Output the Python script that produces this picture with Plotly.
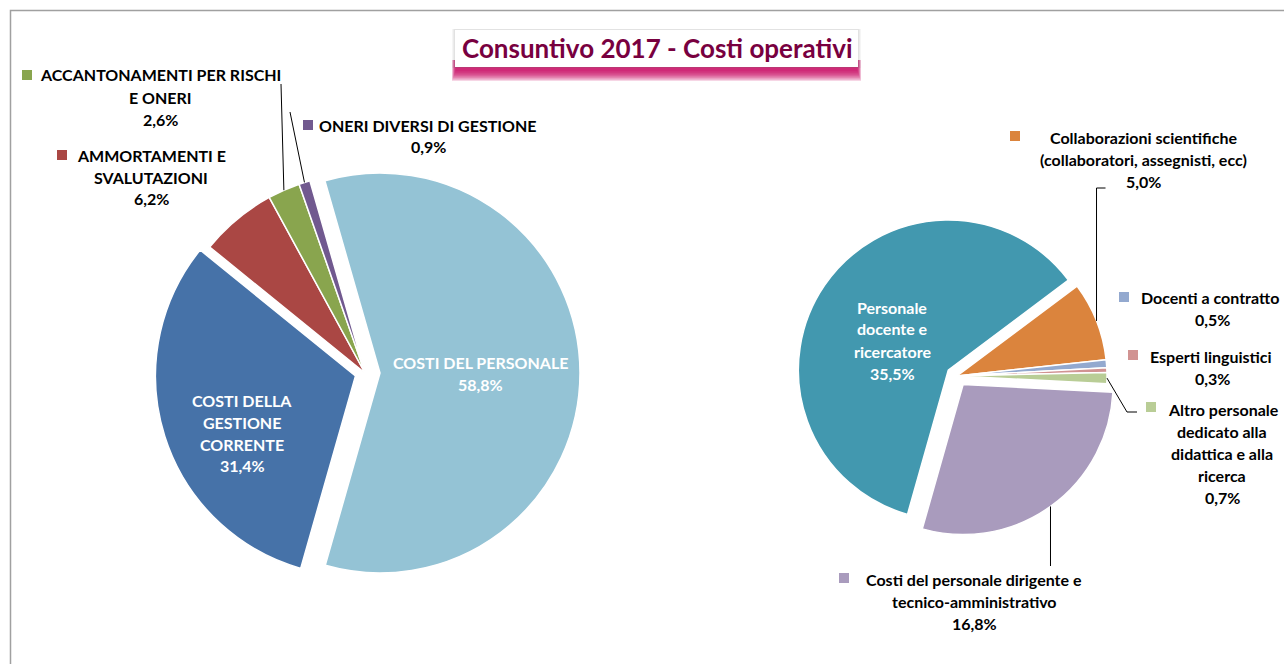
import math
import plotly.graph_objects as go

W, H = 1284, 664

# Costi operativi 2017 - quota percentuale sul totale
cost_labels = ["COSTI DEL PERSONALE", "COSTI DELLA GESTIONE CORRENTE",
               "AMMORTAMENTI E SVALUTAZIONI", "ACCANTONAMENTI PER RISCHI E ONERI",
               "ONERI DIVERSI DI GESTIONE"]
cost_values = [58.8, 31.4, 6.2, 2.6, 0.9]
cost_colors = ["#94C3D5", "#4672A8", "#AA4744", "#89A54E", "#71598F"]
cost_pull = [0.075, 0.05, 0, 0, 0]
cost_lines = [["COSTI DEL PERSONALE"],
              ["COSTI DELLA", "GESTIONE", "CORRENTE"],
              ["AMMORTAMENTI E", "SVALUTAZIONI"],
              ["ACCANTONAMENTI PER RISCHI", "E ONERI"],
              ["ONERI DIVERSI DI GESTIONE"]]

# Dettaglio dei costi del personale
staff_labels = ["Personale docente e ricercatore",
                "Collaborazioni scientifiche (collaboratori, assegnisti, ecc)",
                "Docenti a contratto", "Esperti linguistici",
                "Altro personale dedicato alla didattica e alla ricerca",
                "Costi del personale dirigente e tecnico-amministrativo"]
staff_values = [35.5, 5.0, 0.5, 0.3, 0.7, 16.8]
staff_colors = ["#4298AF", "#DB843D", "#93A9CF", "#D19392", "#B9CD96", "#A99BBD"]
staff_pull = [0.07, 0, 0, 0, 0, 0.07]
staff_lines = [["Personale", "docente e", "ricercatore"],
               ["Collaborazioni scientifiche", "(collaboratori, assegnisti, ecc)"],
               ["Docenti a contratto"],
               ["Esperti linguistici"],
               ["Altro personale", "dedicato alla", "didattica e alla", "ricerca"],
               ["Costi del personale dirigente e", "tecnico-amministrativo"]]

FONT = "Lato"
FONT_SIZE = 16
LINE_H = 22


def fx(x):
    return x / W


def fy(y):
    return 1 - y / H


def pct(v):
    return f"{v:.1f}".replace(".", ",") + "%"


def pie_geometry(cx, cy, r, pulls):
    half = r * (1 + max(pulls))
    return dict(x=[fx(cx - half), fx(cx + half)],
                y=[fy(cy + half), fy(cy - half)])


def mid_point(values, idx, rotation, cx, cy, r, pull):
    tot = sum(values)
    start = rotation + 360 * sum(values[:idx]) / tot
    mid = math.radians(start + 180 * values[idx] / tot)
    rr = r * (1 + pull)
    return cx + rr * math.sin(mid), cy - rr * math.cos(mid)


L_CX, L_CY, L_R, L_ROT = 365, 373, 200, -16
R_CX, R_CY, R_R, R_ROT = 957, 376, 150, 195.8

fig = go.Figure()
fig.add_trace(go.Pie(
    labels=cost_labels, values=cost_values, sort=False, direction="clockwise",
    rotation=L_ROT, pull=cost_pull, textinfo="none", hoverinfo="label+percent",
    marker=dict(colors=cost_colors, line=dict(color="white", width=1.5)),
    domain=pie_geometry(L_CX, L_CY, L_R, cost_pull)))
fig.add_trace(go.Pie(
    labels=staff_labels, values=staff_values, sort=False, direction="clockwise",
    rotation=R_ROT, pull=staff_pull, textinfo="none", hoverinfo="label+value",
    marker=dict(colors=staff_colors, line=dict(color="white", width=1.5)),
    domain=pie_geometry(R_CX, R_CY, R_R, staff_pull)))

annotations = []
shapes = []


def add_text(lines, x, y0, color="black", first_x=None, first_anchor=None):
    for k, t in enumerate(lines):
        xx, xa = x, "center"
        if k == 0 and first_x is not None:
            xx, xa = first_x, first_anchor
        annotations.append(dict(
            text=f"<b>{t}</b>", x=fx(xx), y=fy(y0 + k * LINE_H), xref="paper", yref="paper",
            xanchor=xa, yanchor="middle", showarrow=False,
            font=dict(family=FONT, size=FONT_SIZE, color=color)))


def add_key(x, y, color):
    shapes.append(dict(type="rect", xref="paper", yref="paper",
                       x0=fx(x), x1=fx(x + 10), y0=fy(y + 10), y1=fy(y),
                       fillcolor=color, line=dict(width=0)))


def add_leader(points):
    path = "M " + " L ".join(f"{fx(px)},{fy(py)}" for px, py in points)
    shapes.append(dict(type="path", xref="paper", yref="paper", path=path,
                       line=dict(color="black", width=1)))


# chart frame
shapes.append(dict(type="rect", xref="paper", yref="paper",
                   x0=fx(10.5), x1=fx(1300), y0=fy(680), y1=fy(10.5),
                   line=dict(color="#A0A0A0", width=1.5), fillcolor="rgba(0,0,0,0)"))

# left pie, labels inside the slices
add_text(cost_lines[0] + [pct(cost_values[0])], 480, 362, color="white")
add_text(cost_lines[1] + [pct(cost_values[1])], 242, 400, color="white")
# left pie, labels outside with legend keys
add_key(22, 70, cost_colors[3])
add_text(cost_lines[3] + [pct(cost_values[3])], 160, 75)
add_key(57, 150, cost_colors[2])
add_text(cost_lines[2] + [pct(cost_values[2])], 151, 155)
add_key(303, 120, cost_colors[4])
add_text(cost_lines[4] + [pct(cost_values[4])], 428, 125)

gx, gy = mid_point(cost_values, 3, L_ROT, L_CX, L_CY, L_R, cost_pull[3])
add_leader([(gx, gy), (281, 84)])
px_, py_ = mid_point(cost_values, 4, L_ROT, L_CX, L_CY, L_R, cost_pull[4])
add_leader([(px_, py_), (290, 112)])

# right pie, label inside the main slice
add_text(staff_lines[0] + [pct(staff_values[0])], 892, 307, color="white")
# right pie, labels outside with legend keys
add_key(1010, 131, staff_colors[1])
add_text(staff_lines[1] + [pct(staff_values[1])], 1143, 137)
add_key(1119, 292, staff_colors[2])
add_text(staff_lines[2] + [pct(staff_values[2])], 1212, 297, first_x=1139, first_anchor="left")
add_key(1128, 350, staff_colors[3])
add_text(staff_lines[3] + [pct(staff_values[3])], 1212, 356, first_x=1148, first_anchor="left")
add_key(1146, 402, staff_colors[4])
add_text(staff_lines[4] + [pct(staff_values[4])], 1222, 409, first_x=1166, first_anchor="left")
add_key(839, 573, staff_colors[5])
add_text(staff_lines[5] + [pct(staff_values[5])], 974, 579)

ox, oy = mid_point(staff_values, 1, R_ROT, R_CX, R_CY, R_R, staff_pull[1])
add_leader([(ox, oy), (ox, 188), (ox + 9, 188)])
ax, ay = mid_point(staff_values, 4, R_ROT, R_CX, R_CY, R_R, staff_pull[4])
add_leader([(ax, ay), (1127, 412), (1137, 412)])
vx, vy = mid_point(staff_values, 5, R_ROT, R_CX, R_CY, R_R, staff_pull[5])
add_leader([(vx, vy), (vx, 566)])

# title box: soft magenta glow below, faint grey halo at the sides
for k in range(10):
    shapes.append(dict(type="rect", xref="paper", yref="paper",
                       x0=fx(452 + k * 0.4), x1=fx(861 - k * 0.4),
                       y0=fy(81 - k * 1.1), y1=fy(60),
                       fillcolor="rgba(200,0,96,0.16)", line=dict(width=0)))
for k in range(3):
    shapes.append(dict(type="rect", xref="paper", yref="paper",
                       x0=fx(452 + k), x1=fx(861 - k), y0=fy(68), y1=fy(29),
                       fillcolor="rgba(120,120,120,0.07)", line=dict(width=0)))
shapes.append(dict(type="rect", xref="paper", yref="paper",
                   x0=fx(455), x1=fx(858), y0=fy(67), y1=fy(30),
                   fillcolor="white", line=dict(width=0)))
annotations.append(dict(text="<b>Consuntivo 2017 - Costi operativi</b>",
                        x=fx(657), y=fy(48), xref="paper", yref="paper",
                        xanchor="center", yanchor="middle", showarrow=False,
                        font=dict(family=FONT, size=26, color="#78003F")))

fig.update_layout(width=W, height=H, margin=dict(l=0, r=0, t=0, b=0),
                  paper_bgcolor="white", plot_bgcolor="white", showlegend=False,
                  shapes=shapes, annotations=annotations)

fig.write_html("out.html")
